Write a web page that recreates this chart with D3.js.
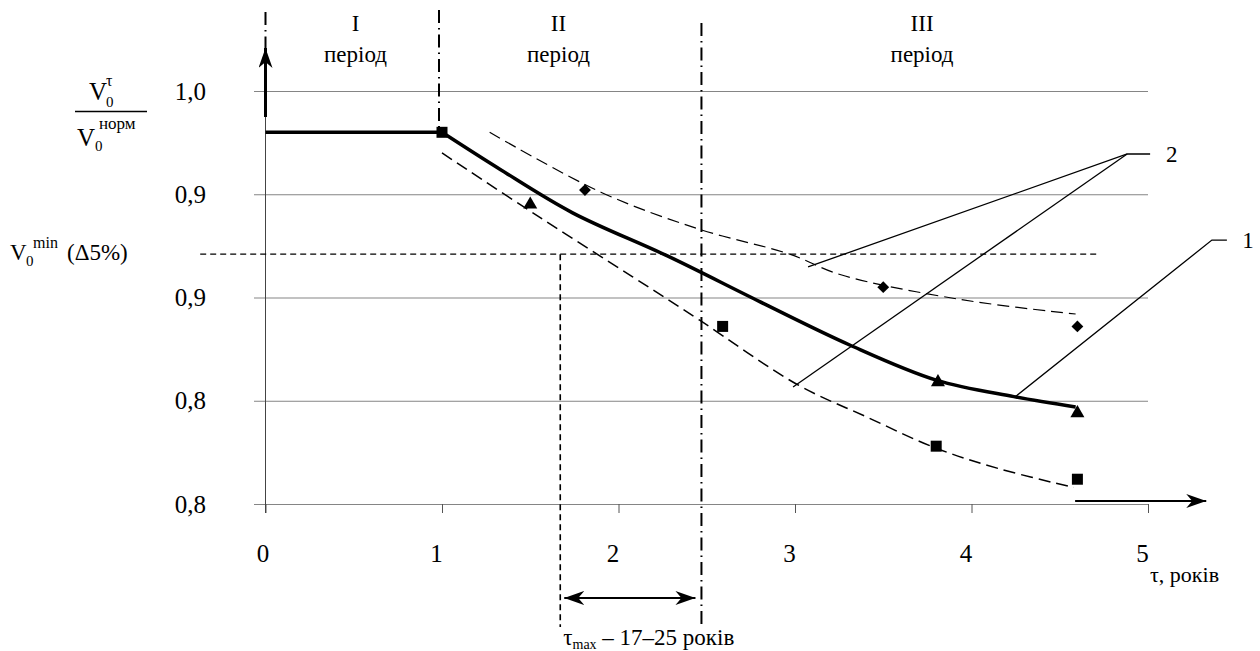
<!DOCTYPE html>
<html>
<head>
<meta charset="utf-8">
<script src="https://cdn.jsdelivr.net/npm/d3@7"></script>
<style>
  html, body { margin: 0; padding: 0; background: #fff; }
  svg text { font-family: "Liberation Serif", "Times New Roman", Tinos, "DejaVu Serif", "Noto Serif", serif; }
</style>
</head>
<body>
<svg id="chart" width="1260" height="651"></svg>
<script>
// === Données ===
const xTicks = [0, 1, 2, 3, 4, 5];
const yTicks = [0.80, 0.85, 0.90, 0.95, 1.00];
const yLabels = ["0,8", "0,8", "0,9", "0,9", "1,0"];

// courbe 1 (moyenne, trait épais)
const meanTau = [0, 1.00, 1.33, 1.74, 2.28, 2.80, 3.31, 3.80, 4.24, 4.59];
const meanV   = [0.980, 0.980, 0.962, 0.941, 0.920, 0.898, 0.877, 0.860, 0.852, 0.847];

// courbes 2 (bornes, tirets)
const upperTau = [1.27, 1.90, 2.46, 2.97, 3.26, 3.94, 4.59];
const upperV   = [0.980, 0.951, 0.933, 0.921, 0.911, 0.899, 0.892];
const lowerTau = [1.00, 1.55, 2.08, 2.46, 3.01, 3.41, 3.80, 4.16, 4.58];
const lowerV   = [0.970, 0.939, 0.910, 0.889, 0.858, 0.842, 0.827, 0.817, 0.808];

// points mesurés
const triTau = [1.50, 3.81, 4.60], triV = [0.945, 0.859, 0.844];
const sqTau  = [1.00, 2.59, 3.80, 4.60], sqV = [0.980, 0.886, 0.828, 0.812];
const diaTau = [1.81, 3.50, 4.60], diaV = [0.952, 0.905, 0.886];

// seuils et périodes
const v0min = 0.921;
const periodBounds = [0, 1, 2.47];
const periodNames = ["I", "II", "III"];
const periodCenters = [0.51, 1.66, 3.72];
const tauMaxFrom = 1.67, tauMaxTo = 2.47;

// === Échelles ===
const svg = d3.select('#chart');
const x = d3.scaleLinear().domain([0, 5]).range([265.5, 1148]);
const y = d3.scaleLinear().domain([0.8, 1.0]).range([504, 91]);
const pts = (ts, vs) => ts.map((t, i) => [t, vs[i]]);

const defs = svg.append('defs');
function arrowMarker(id, len, half) {
  defs.append('marker')
    .attr('id', id)
    .attr('markerUnits', 'userSpaceOnUse')
    .attr('viewBox', `${-len} ${-half} ${len + 1} ${2 * half}`)
    .attr('refX', 0).attr('refY', 0)
    .attr('markerWidth', len + 1).attr('markerHeight', 2 * half)
    .attr('orient', 'auto-start-reverse')
    .append('path')
    .attr('d', `M0,0 L${-len},${-half} L${-len * 0.7},0 L${-len},${half} Z`)
    .attr('fill', '#000');
}
arrowMarker('arr', 20, 7);

// === Grille + axe Y ===
const gridLeft = x(0) - 11.5;
svg.append('g')
  .attr('transform', `translate(${gridLeft},0)`)
  .call(d3.axisLeft(y).tickValues(yTicks)
    .tickFormat((d, i) => yLabels[i])
    .tickSize(-(x(5) - gridLeft)).tickPadding(48))
  .attr('font-family', null)
  .call(g => g.select('.domain').remove())
  .call(g => g.selectAll('line').attr('stroke', '#858585').attr('stroke-width', 1))
  .call(g => g.selectAll('text').attr('font-size', 25).attr('fill', '#000'));

// === Axe X ===
svg.append('g')
  .attr('transform', `translate(0,${y(0.8)})`)
  .call(d3.axisBottom(x).tickValues(xTicks).tickFormat(d3.format('d')).tickSize(9).tickPadding(31))
  .attr('font-family', null)
  .call(g => g.select('.domain').remove())
  .call(g => g.selectAll('line').attr('stroke', '#555'))
  .call(g => g.selectAll('text').attr('font-size', 25)
    .attr('fill', '#000').attr('dx', d => d === 0 ? -3 : -6));

// axe vertical
svg.append('line')
  .attr('x1', x(0)).attr('x2', x(0))
  .attr('y1', y(1.0) - 30).attr('y2', y(0.8) + 9)
  .attr('stroke', '#444').attr('stroke-width', 1);
svg.append('line')
  .attr('x1', x(0)).attr('x2', x(0))
  .attr('y1', y(1.0) + 26).attr('y2', y(1.0) - 43)
  .attr('stroke', '#000').attr('stroke-width', 3)
  .attr('marker-end', 'url(#arr)');

// flèche axe X
svg.append('line')
  .attr('x1', x(4.587)).attr('x2', x(5.33))
  .attr('y1', y(0.8) - 3).attr('y2', y(0.8) - 3)
  .attr('stroke', '#000').attr('stroke-width', 2)
  .attr('marker-end', 'url(#arr)');

// === Limites des périodes ===
const bTop = [12, 10, 23];
const bBottom = [y(1.0) - 43, y(0.98), 627];
periodBounds.forEach((t, i) => {
  svg.append('line')
    .attr('x1', x(t) - (i === 1 ? 3 : 0)).attr('x2', x(t) - (i === 1 ? 3 : 0))
    .attr('y1', bTop[i]).attr('y2', bBottom[i])
    .attr('stroke', '#000').attr('stroke-width', 2)
    .attr('stroke-dasharray', '13,5,1.5,5');
});

periodNames.forEach((n, i) => {
  const g = svg.append('g').attr('text-anchor', 'middle').attr('font-size', 23);
  g.append('text').attr('x', x(periodCenters[i])).attr('y', 31).text(n);
  g.append('text').attr('x', x(periodCenters[i])).attr('y', 62).text('період');
});

// === V0min ===
svg.append('line')
  .attr('x1', x(-0.37)).attr('x2', x(4.72))
  .attr('y1', y(v0min)).attr('y2', y(v0min))
  .attr('stroke', '#000').attr('stroke-width', 1.4)
  .attr('stroke-dasharray', '6,4');
svg.append('line')
  .attr('x1', x(tauMaxFrom)).attr('x2', x(tauMaxFrom))
  .attr('y1', y(v0min)).attr('y2', 627)
  .attr('stroke', '#000').attr('stroke-width', 1.6)
  .attr('stroke-dasharray', '6,4');

// τmax
svg.append('line')
  .attr('x1', x(tauMaxFrom) + 4).attr('x2', x(tauMaxTo) - 6)
  .attr('y1', 598).attr('y2', 598)
  .attr('stroke', '#000').attr('stroke-width', 1.8)
  .attr('marker-start', 'url(#arr)').attr('marker-end', 'url(#arr)');
const tm = svg.append('text').attr('x', x(tauMaxFrom) + 3).attr('y', 645).attr('font-size', 23);
tm.append('tspan').text('τ');
tm.append('tspan').attr('font-size', 14).attr('dy', 4).text('max');
tm.append('tspan').attr('dy', -4).text(' – 17–25 років');

// === Courbes ===
const line = d3.line().x(d => x(d[0])).y(d => y(d[1]));
const meanPts = pts(meanTau, meanV);
svg.append('path')
  .attr('d', line.curve(d3.curveLinear)(meanPts.slice(0, 2)))
  .attr('fill', 'none').attr('stroke', '#000').attr('stroke-width', 3.5);
svg.append('path')
  .attr('d', line.curve(d3.curveCatmullRom.alpha(0.5))(meanPts.slice(1)))
  .attr('fill', 'none').attr('stroke', '#000').attr('stroke-width', 3.5);

svg.append('path')
  .attr('d', line.curve(d3.curveCatmullRom.alpha(0.5))(pts(upperTau, upperV)))
  .attr('fill', 'none').attr('stroke', '#000').attr('stroke-width', 1.2)
  .attr('stroke-dasharray', '12,6');
svg.append('path')
  .attr('d', line.curve(d3.curveCatmullRom.alpha(0.5))(pts(lowerTau, lowerV)))
  .attr('fill', 'none').attr('stroke', '#000').attr('stroke-width', 1.5)
  .attr('stroke-dasharray', '12,6');

// === Marqueurs ===
function markers(data, type, size, rot) {
  svg.append('g').selectAll('path').data(data).join('path')
    .attr('d', d3.symbol().type(type).size(size))
    .attr('transform', d => `translate(${x(d[0])},${y(d[1])}) rotate(${rot})`)
    .attr('fill', '#000');
}
markers(pts(triTau, triV), d3.symbolTriangle, 85, 0);
markers(pts(sqTau, sqV), d3.symbolSquare, 121, 0);
markers(pts(diaTau, diaV), d3.symbolSquare, 70, 45);

// === Repères 1 et 2 ===
const leaders = [
  [[5.012, 0.9695], [4.882, 0.9695], [3.074, 0.9148]],
  [[4.882, 0.9695], [2.989, 0.8567]],
  [[5.447, 0.9278], [5.362, 0.9278], [4.246, 0.8518]]
];
leaders.forEach(l => svg.append('path')
  .attr('d', d3.line().x(d => x(d[0])).y(d => y(d[1]))(l))
  .attr('fill', 'none').attr('stroke', '#000').attr('stroke-width', 1.3));
svg.append('text').attr('x', x(5.135)).attr('y', y(0.9695) + 8)
  .attr('text-anchor', 'middle').attr('font-size', 23).text('2');
svg.append('text').attr('x', x(5.566)).attr('y', y(0.9278) + 8)
  .attr('text-anchor', 'middle').attr('font-size', 23).text('1');

// === Titres des axes ===
svg.append('text').attr('x', 1150).attr('y', 582).attr('font-size', 22).text('τ, років');

const num = svg.append('g').attr('font-size', 25);
num.append('text').attr('x', 89).attr('y', 100).text('V');
num.append('text').attr('x', 106).attr('y', 107).attr('font-size', 15).text('0');
num.append('text').attr('x', 106).attr('y', 86).attr('font-size', 16).text('τ');
svg.append('line').attr('x1', 75).attr('x2', 147).attr('y1', 111.5).attr('y2', 111.5)
  .attr('stroke', '#000').attr('stroke-width', 1.5);
num.append('text').attr('x', 77).attr('y', 146).text('V');
num.append('text').attr('x', 95).attr('y', 151).attr('font-size', 15).text('0');
num.append('text').attr('x', 99).attr('y', 129).attr('font-size', 17).text('норм');

const vm = svg.append('g').attr('font-size', 23);
vm.append('text').attr('x', 10).attr('y', 260).text('V');
vm.append('text').attr('x', 26).attr('y', 266).attr('font-size', 15).text('0');
vm.append('text').attr('x', 33).attr('y', 248).attr('font-size', 16).text('min');
vm.append('text').attr('x', 67).attr('y', 260).text('(Δ5%)');
</script>
</body>
</html>
